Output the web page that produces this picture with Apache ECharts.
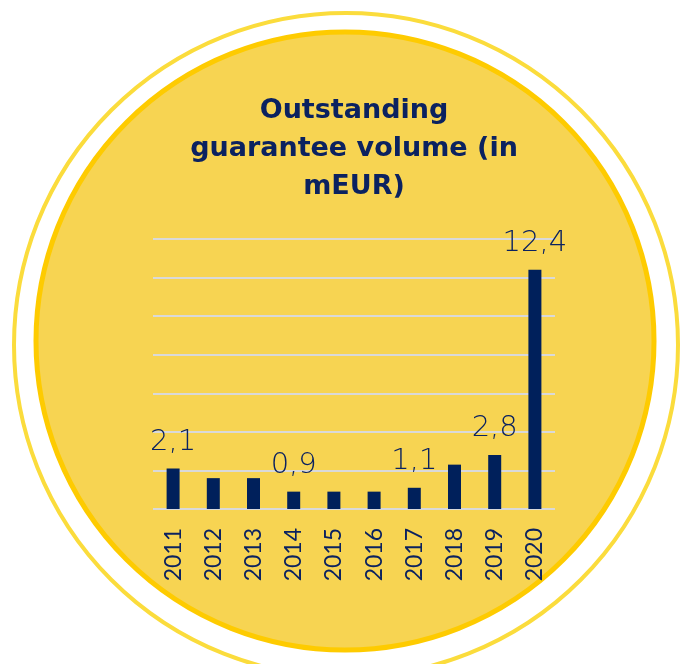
<!DOCTYPE html>
<html lang="en">
<head>
    <meta charset="UTF-8">
    <title>Outstanding guarantee volume</title>
    <script src="https://cdn.jsdelivr.net/npm/echarts@6/dist/echarts.min.js"></script>
    <style>
        body { margin: 0; background: #fff; }
    </style>
</head>
<body>
<div id="main" style="width: 680px;height:664px;"></div>
<script>
    // data
    let years = ['2011', '2012', '2013', '2014', '2015', '2016', '2017', '2018', '2019', '2020'];
    let volumes = [2.1, 1.6, 1.6, 0.9, 0.9, 0.9, 1.1, 2.3, 2.8, 12.4];
    let labelledYears = ['2011', '2014', '2017', '2019', '2020'];

    let navy = '#0b2260';

    let myChart = echarts.init(document.getElementById('main'));
    let option = {
        animation: false,
        graphic: [
            {
                type: 'circle', z: -3,
                shape: {cx: 346, cy: 345, r: 332},
                style: {fill: '#fff', stroke: '#fbdc3c', lineWidth: 4}
            },
            {
                type: 'circle', z: -2,
                shape: {cx: 345, cy: 341, r: 309},
                style: {fill: '#f7d452', stroke: '#fecb00', lineWidth: 5}
            },
            {
                type: 'text', z: 5,
                x: 354, y: 92,
                style: {
                    text: 'Outstanding\nguarantee volume (in\nmEUR)',
                    fill: navy,
                    font: 'bold 27px "DejaVu Sans"',
                    textAlign: 'center', align: 'center',
                    textVerticalAlign: 'top', verticalAlign: 'top',
                    lineHeight: 38
                }
            }
        ],
        grid: {left: 153, right: 125, top: 239, bottom: 155},
        xAxis: {
            type: 'category',
            data: years,
            axisLine: {show: false},
            axisTick: {show: false},
            axisLabel: {
                rotate: 90,
                margin: 19,
                color: navy,
                fontSize: 23,
                fontFamily: 'Lato'
            }
        },
        yAxis: {
            type: 'value',
            min: 0, max: 14, interval: 2,
            axisLabel: {show: false},
            axisLine: {show: false},
            axisTick: {show: false},
            splitLine: {lineStyle: {color: '#d9d9d9', width: 2}}
        },
        series: [{
            type: 'bar',
            barWidth: 13,
            itemStyle: {color: '#00205b'},
            data: volumes.map(function (v, i) {
                return {
                    value: v,
                    label: {show: labelledYears.indexOf(years[i]) >= 0}
                };
            }),
            label: {
                position: 'top',
                distance: 12,
                color: navy,
                fontSize: 29,
                fontFamily: 'DejaVu Sans',
                fontWeight: 200,
                formatter: function (p) {
                    return String(p.value).replace('.', ',');
                }
            }
        }]
    };
    myChart.setOption(option);
</script>
</body>
</html>
